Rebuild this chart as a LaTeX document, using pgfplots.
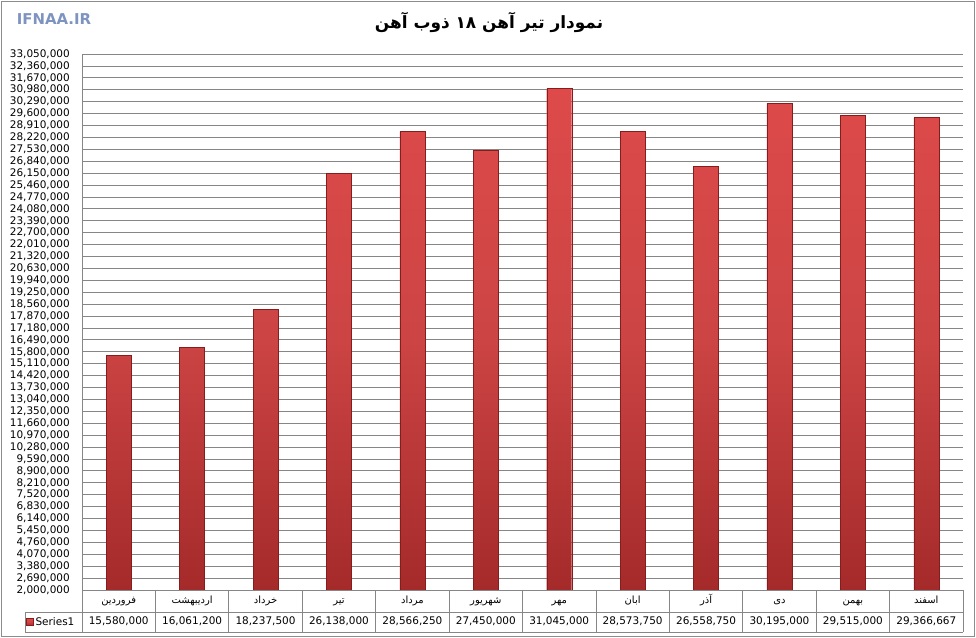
\documentclass[border=0pt]{standalone}
\usepackage{fontspec}
\setmainfont{DejaVu Sans}
\newfontfamily\fa[Script=Arabic]{DejaVu Sans}
\usepackage{pgfplots}
\pgfplotsset{compat=1.18}
\TeXXeTstate=1
\definecolor{gridgray}{RGB}{134,134,134}
\definecolor{framegray}{RGB}{140,140,140}
\definecolor{barlight}{RGB}{222,74,74}
\definecolor{bardark}{RGB}{165,42,42}
\definecolor{baredge}{RGB}{135,28,28}
\definecolor{logoblue}{RGB}{125,148,192}
\newcommand{\fr}[1]{{\fa\beginR #1\endR}}

\begin{document}
\begin{tikzpicture}
\path[use as bounding box] (0,0) rectangle (976bp,638bp);
\draw[framegray, line width=1.5bp] (1.5bp,1.5bp) rectangle (974.5bp,636.5bp);
% title and logo
\node[font=\fontsize{17}{20}\selectfont\bfseries] at (489bp,616bp)
  {\fa\beginR نمودار تیر آهن \beginL ۱۸\endL{} ذوب آهن\endR};
\node[font=\fontsize{15}{18}\selectfont\bfseries, text=logoblue] at (54bp,619bp) {IFNAA.IR};
\begin{axis}[
  at={(82bp,48bp)}, anchor=south west,
  scale only axis, width=881bp, height=536bp,
  xmin=-0.5, xmax=11.5, ymin=2000000, ymax=33050000,
  axis x line*=bottom, axis y line*=left,
  axis line style={gridgray, -},
  major tick length=0pt,
  ymajorgrids, grid style={gridgray, line width=0.8bp},
  scaled y ticks=false,
  ytick={2000000,2690000,3380000,4070000,4760000,5450000,6140000,6830000,7520000,8210000,
         8900000,9590000,10280000,10970000,11660000,12350000,13040000,13730000,14420000,15110000,
         15800000,16490000,17180000,17870000,18560000,19250000,19940000,20630000,21320000,22010000,
         22700000,23390000,24080000,24770000,25460000,26150000,26840000,27530000,28220000,28910000,
         29600000,30290000,30980000,31670000,32360000,33050000},
  yticklabel style={font=\fontsize{10.5}{12}\selectfont, inner sep=0pt, anchor=east, xshift=-12bp,
    /pgf/number format/.cd, fixed, precision=0, 1000 sep={,}, assume math mode=true},
  xtick={0,...,11},
  xticklabels={\fr{فروردین},\fr{اردیبهشت},\fr{خرداد},\fr{تیر},\fr{مرداد},\fr{شهریور},
               \fr{مهر},\fr{ابان},\fr{آذر},\fr{دی},\fr{بهمن},\fr{اسفند}},
  xticklabel style={font=\fontsize{10}{12}\selectfont, anchor=center, inner sep=0pt,
    yshift=-11bp, text height=7bp, text depth=2bp},
  extra x ticks={0,...,11},
  extra x tick labels={{15,580,000},{16,061,200},{18,237,500},{26,138,000},{28,566,250},{27,450,000},
                       {31,045,000},{28,573,750},{26,558,750},{30,195,000},{29,515,000},{29,366,667}},
  extra x tick style={grid=none, xticklabel style={font=\fontsize{10.5}{12}\selectfont, yshift=-21bp}},
  legend style={at={(axis description cs:-0.0636,-0.0597)}, anchor=west, draw=none, fill=none,
    inner sep=0pt, font=\fontsize{10.5}{12}\selectfont},
  legend image code/.code={\fill[bardark, draw=baredge] (0bp,-3.5bp) rectangle (7bp,3.5bp);},
  clip=true,
]
\addplot[ybar, bar width=25bp, draw=baredge, top color=barlight, bottom color=bardark,
  middle color=barlight!92!black]
  coordinates {(0,15580000) (1,16061200) (2,18237500) (3,26138000) (4,28566250) (5,27450000)
               (6,31045000) (7,28573750) (8,26558750) (9,30195000) (10,29515000) (11,29366667)};
\legend{Series1}
\end{axis}
% data table grid
\begin{scope}[gridgray, line width=0.8bp]
\foreach \k in {0,...,12} \draw (82bp+\k*73.4167bp,48bp) -- (82bp+\k*73.4167bp,6bp);
\draw (25bp,26bp) -- (963bp,26bp);
\draw (25bp,6bp) -- (963bp,6bp);
\draw (25bp,26bp) -- (25bp,6bp);
\end{scope}
\end{tikzpicture}
\end{document}
